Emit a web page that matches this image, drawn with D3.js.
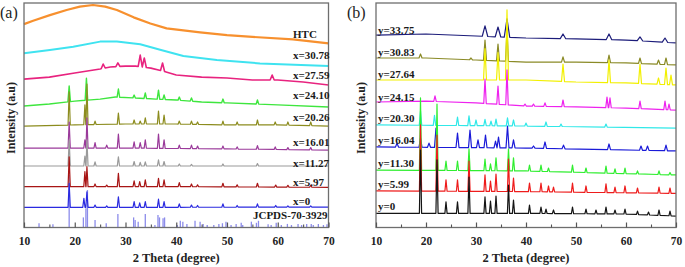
<!DOCTYPE html>
<html><head><meta charset="utf-8">
<script src="https://cdn.jsdelivr.net/npm/d3@7"></script>
<style>body{margin:0;background:#fff} svg{display:block}</style>
</head><body><svg id="c" width="685" height="267"></svg>
<script>
// ---------- shared axis data ----------
const thetaTicks = [10,20,30,40,50,60,70];
const thetaMinor = [15,25,35,45,55,65];

// ---------- Panel (a): [2theta, intensity (a.u., stacked)] ----------
const labelsA = ["HTC","x=30.78","x=27.59","x=24.10","x=20.26","x=16.01","x=11.27","x=5.97","x=0"];
const baseHTC = [[10,90.6],[11.8,92.1],[15.1,94.6],[18.4,96.9],[21,98.4],[23.6,99.1],[26,98.4],[28.3,96.9],[31.6,93.6],[34.9,90.9],[38.1,88.7],[44.7,86.9],[50,85.7],[55,84.9],[63,83.8],[70,82.0]];
const peaksHTC = [];
const baseA3078 = [[10,77.6],[15.1,79.1],[19.7,80.5],[25,82.8],[28.3,82.8],[32.9,81.6],[37,79.1],[41.4,76.4],[48,74.6],[56.5,73.1],[70,71.9]];
const peaksA3078 = [];
const baseA2759 = [[10,66.1],[15,67.0],[20,68.8],[25,70.6],[27,71.5],[30,71.9],[32,71.9],[35,71.0],[38,69.3],[40,67.9],[45,67.0],[50,66.6],[55,65.7],[60,65.7],[65,64.8],[70,63.5]];
const peaksA2759 = [[25.6,72.8],[28.5,73.3],[32.9,76.8],[33.7,75.5],[37.3,73.3],[58.9,67.9]];
const baseA2410 = [[10,54.1],[15,55.0],[20,56.3],[25,57.2],[28,58.1],[32,57.7],[36,57.2],[40,56.8],[45,55.9],[50,55.5],[60,54.6],[70,53.7]];
const peaksA2410 = [[18.9,63.0],[22.3,66.5],[28.6,61.7],[31.7,59.0],[33.9,59.9],[36.5,61.2],[37.6,59.0],[40.6,58.1],[43.0,57.7],[49.2,57.2],[56.0,56.8]];
const baseA2026 = [[10,45.2],[20,45.7],[30,46.1],[40,46.1],[50,45.7],[60,45.7],[70,45.2]];
const peaksA2026 = [[18.9,60.4],[22.0,54.6],[22.4,63.9],[24.0,47.4],[28.6,51.0],[31.7,47.9],[32.9,47.4],[33.9,48.8],[36.5,51.9],[37.6,50.1],[40.6,47.4],[43.0,47.4],[44.2,47.0],[49.2,47.4],[52.0,47.0],[56.0,47.9],[59.5,47.0],[62.0,47.0],[66.5,47.0]];
const baseA1601 = [[10,35.4],[30,35.4],[50,35.0],[70,34.5]];
const peaksA1601 = [[18.9,47.0],[22.0,39.0],[22.4,48.8],[24.0,37.8],[26.3,36.7],[28.6,41.6],[31.7,38.2],[32.9,37.8],[33.9,39.0],[36.5,41.6],[37.6,39.0],[40.6,36.7],[43.0,36.7],[44.2,36.3],[49.2,36.3],[52.0,35.9],[56.0,36.5],[59.5,35.9],[62.0,35.6],[66.5,35.6]];
const baseA1127 = [[10,27.4],[40,27.4],[70,27.4]];
const peaksA1127 = [[18.9,39.0],[22.0,31.8],[22.4,39.0],[24.0,29.2],[28.6,31.5],[31.7,29.4],[32.9,29.0],[33.9,29.2],[36.5,30.1],[37.6,29.4],[40.6,28.3],[43.0,28.1],[49.2,28.3],[56.0,28.5]];
const baseA597 = [[10,18.2],[40,18.2],[70,17.9]];
const peaksA597 = [[18.9,31.5],[22.0,24.9],[22.4,27.1],[24.0,19.4],[26.3,18.9],[28.6,24.1],[31.7,20.8],[32.8,20.4],[33.9,21.2],[36.5,21.9],[37.6,21.2],[40.6,20.0],[43.0,19.4],[44.2,19.0],[49.2,19.7],[52.0,19.0],[56.0,19.7],[59.6,18.9],[62.0,18.8],[66.5,18.8]];
const baseA0 = [[10,9.0],[40,9.0],[70,9.1]];
const peaksA0 = [[18.9,19.7],[21.8,13.0],[22.4,15.9],[24.0,10.0],[26.3,9.6],[28.6,13.7],[31.7,11.5],[32.8,11.0],[33.9,11.5],[36.5,12.6],[37.6,11.5],[40.6,10.5],[43.0,10.0],[44.2,9.8],[49.2,10.5],[52.0,9.8],[56.0,10.5],[59.6,9.8],[62.0,9.6],[66.5,9.6]];
const jcpdsLabel = "JCPDS-70-3929";
const jcpdsPos = [12.96,15.7,18.9,21.7,22.2,22.5,24.0,26.2,28.5,31.6,31.9,32.5,33.9,35.8,36.4,36.7,37.4,37.7,40.2,40.8,41.3,42.1,43.7,44.7,45.3,46.1,47.4,48.4,49.1,49.8,50.8,51.8,52.8,53.1,54.8,55.8,56.2,58.1,58.7,59.7,60.7,61.9,62.7,64.0,64.7,65.7,66.6,67.0,68.0,69.0,69.7];
const jcpdsInt = [1.9,1.4,23.4,4.5,8.6,16.7,3.3,1.9,6.0,4.5,3.3,2.6,6.0,1.1,5.6,4.5,4.1,4.5,1.1,3.0,2.6,1.6,3.0,2.6,1.6,1.1,1.1,1.6,1.9,2.6,1.1,1.6,2.1,1.1,2.6,2.1,3.0,1.4,1.1,2.1,1.1,1.6,1.1,1.6,1.1,1.6,1.6,1.1,1.6,1.1,1.4];

// ---------- Panel (b) ----------
const labelsB = ["y=33.75","y=30.83","y=27.64","y=24.15","y=20.30","y=16.04","y=11.30","y=5.99","y=0"];
const baseB3375 = [[10,85.7],[20,86.2],[30,85.3],[40,84.4],[50,84.0],[60,83.5],[70,82.2]];
const peaksB3375 = [[31.8,89.8],[34.4,89.3],[36.2,92.9],[47.4,86.2],[56.6,86.2],[62.8,84.9],[67.8,84.4]];
const baseB3083 = [[10,75.5],[20,75.5],[30,74.6],[40,73.7],[50,73.7],[60,73.3],[70,72.4]];
const peaksB3083 = [[18.9,77.3],[29.0,75.5],[31.8,83.5],[34.4,81.7],[36.2,88.0],[47.4,76.0],[56.6,76.8],[62.8,75.5],[66.5,74.6],[68.0,75.5]];
const baseB2764 = [[10,65.7],[40,65.7],[50,64.8],[60,64.4],[70,63.5]];
const peaksB2764 = [[31.8,79.7],[34.4,77.9],[36.2,96.9],[47.4,72.8],[56.6,74.6],[62.8,72.8],[66.5,66.6],[68.0,71.0],[69.0,67.9]];
const baseB2415 = [[10,55.9],[20,56.3],[30,55.5],[40,54.1],[50,53.7],[60,53.2],[70,52.3]];
const peaksB2415 = [[21.8,58.6],[31.8,66.1],[34.4,63.0],[36.2,70.2],[39.8,55.0],[41.5,55.0],[43.8,55.5],[47.4,56.8],[56.2,58.1],[56.8,57.7],[62.8,56.3],[67.8,56.3],[68.6,55.0]];
const baseB2030 = [[10,45.7],[40,45.2],[70,44.3]];
const peaksB2030 = [[18.9,51.9],[21.7,50.0],[26.3,49.2],[28.6,49.7],[30.0,47.9],[31.8,48.2],[33.0,47.4],[34.0,48.3],[36.3,48.8],[37.5,47.9],[40.0,46.5],[44.0,47.0],[47.0,46.1],[56.0,46.1]];
const baseB1604 = [[10,35.9],[40,35.4],[70,34.1]];
const peaksB1604 = [[14.2,37.6],[18.9,39.9],[20.6,37.6],[22.0,44.3],[26.3,42.1],[28.8,43.4],[30.4,39.0],[31.9,41.2],[33.9,38.5],[34.5,40.3],[36.3,45.2],[37.5,39.0],[41.5,36.3],[43.8,38.1],[47.5,36.7],[56.6,37.2],[63.0,36.3],[64.3,36.3],[68.0,36.7]];
const baseB1130 = [[10,25.6],[40,25.2],[70,23.4]];
const peaksB1130 = [[18.9,57.7],[22.2,55.0],[24.0,29.6],[26.3,29.6],[28.6,35.0],[31.8,30.5],[32.9,28.3],[34.0,31.0],[36.5,35.0],[37.5,31.0],[40.7,27.8],[43.0,27.8],[44.5,26.5],[49.3,27.8],[52.0,26.5],[56.0,27.4],[57.8,26.1],[59.8,26.5],[62.3,25.2],[66.6,25.2],[68.8,24.5]];
const baseB599 = [[10,16.3],[40,16.0],[70,15.2]];
const peaksB599 = [[18.9,45.7],[22.2,41.2],[24.0,21.2],[26.3,21.2],[28.6,29.6],[31.8,23.4],[32.9,20.7],[34.0,23.8],[36.5,30.5],[37.5,22.0],[40.7,19.8],[43.0,19.8],[44.5,18.5],[45.5,18.0],[49.3,19.8],[52.0,18.5],[56.0,19.4],[57.8,18.0],[59.8,18.5],[62.3,17.6],[66.6,18.0],[68.8,17.6]];
const baseB0 = [[10,6.3],[40,6.3],[60,6.0],[70,5.1]];
const peaksB0 = [[18.9,34.5],[22.2,30.1],[24.0,11.4],[26.3,11.4],[28.6,22.5],[31.8,13.6],[32.9,11.8],[34.0,14.0],[36.5,18.9],[37.5,12.2],[40.7,10.0],[43.0,9.1],[44.0,8.2],[45.5,7.8],[49.3,9.1],[52.0,8.2],[54.0,7.8],[56.0,9.1],[57.8,7.8],[59.8,8.2],[62.3,7.3],[64.5,6.9],[66.6,7.8],[68.8,7.3]];

// peak half-widths (degrees 2theta)
const halfWidthA = [0.25,0.25,0.4,0.25,0.22,0.22,0.22,0.22,0.22];
const halfWidthB = [0.55,0.3,0.3,0.25,0.25,0.3,0.22,0.22,0.22];

// ---------- styles ----------
const colorsA = ["#f7902e","#3fe3f0","#e8237f","#3ee63e","#8c8c1e","#9a3a9a","#9a9a9a","#a81515","#2a2ae0"];
const widthsA = [2.2,2.0,1.6,1.4,1.2,1.2,1.2,1.2,1.2];
const colorsB = ["#1c1c7a","#8a8a26","#f2f000","#ee22ee","#30e8e8","#1a1ad8","#30ee30","#ee1c1c","#151515"];
const labelYA = [34,55,75,95,117,142,163,182,201];
const labelYB = [30,52,74,97,118,140,163,184,206];

const seriesA = [[baseHTC,peaksHTC],[baseA3078,peaksA3078],[baseA2759,peaksA2759],[baseA2410,peaksA2410],[baseA2026,peaksA2026],[baseA1601,peaksA1601],[baseA1127,peaksA1127],[baseA597,peaksA597],[baseA0,peaksA0]];
const seriesB = [[baseB3375,peaksB3375],[baseB3083,peaksB3083],[baseB2764,peaksB2764],[baseB2415,peaksB2415],[baseB2030,peaksB2030],[baseB1604,peaksB1604],[baseB1130,peaksB1130],[baseB599,peaksB599],[baseB0,peaksB0]];

const svg = d3.select("#c");
const FONT = "'Liberation Serif','Times New Roman',serif";
const plotTop = 3, plotBottom = 227.5;

function buildPoints(base, peaks, hw){
  const bl = d3.scaleLinear().domain(base.map(d=>d[0])).range(base.map(d=>d[1]));
  const pts = base.filter((b,i) => i===0 || i===base.length-1 || !peaks.some(p => Math.abs(p[0]-b[0]) < hw*1.5)).map(d=>[d[0],d[1]]);
  peaks.forEach(p => { pts.push([p[0]-hw, bl(p[0]-hw)], [p[0], p[1]], [p[0]+hw, bl(p[0]+hw)]); });
  pts.sort((a,b)=>a[0]-b[0]);
  return pts;
}

function panel(left, right, series, colors, widths, hws, labels, labelX, labelY, tag, tagX, ylabX, sticks){
  const x = d3.scaleLinear().domain([10,70]).range([left,right]);
  const y = d3.scaleLinear().domain([0,100]).range([plotBottom,plotTop]);
  const g = svg.append("g");
  if (sticks){
    g.append("g").selectAll("line").data(jcpdsPos).join("line")
      .attr("x1",d=>x(d)).attr("x2",d=>x(d))
      .attr("y1",y(0)).attr("y2",(d,i)=>y(jcpdsInt[i]))
      .attr("stroke","#8c8cea").attr("stroke-width",1.3);
  }
  const line = d3.line().x(d=>x(d[0])).y(d=>y(d[1]));
  series.forEach((s,i)=>{
    g.append("path").attr("d", line(buildPoints(s[0], s[1], hws[i])))
      .attr("fill","none").attr("stroke",colors[i]).attr("stroke-width",widths[i])
      .attr("stroke-linejoin","round");
  });
  g.append("rect").attr("x",left).attr("y",plotTop).attr("width",right-left).attr("height",plotBottom-plotTop)
    .attr("fill","none").attr("stroke","#6e6e6e").attr("stroke-width",1.3);
  const ax = g.append("g").attr("transform",`translate(0,${plotBottom})`)
    .call(d3.axisBottom(x).tickValues(thetaTicks).tickSize(-5).tickPadding(9).tickFormat(d3.format("d")));
  ax.select(".domain").remove();
  ax.selectAll("line").attr("stroke","#555").attr("stroke-width",1.2);
  ax.selectAll("text").attr("font-family",FONT).attr("font-weight","bold").attr("font-size","11.5px").attr("fill","#222");
  const mx = g.append("g").attr("transform",`translate(0,${plotBottom})`)
    .call(d3.axisBottom(x).tickValues(thetaMinor).tickSize(-3).tickFormat(""));
  mx.select(".domain").remove();
  mx.selectAll("line").attr("stroke","#555").attr("stroke-width",1.1);
  g.append("text").attr("x",(left+right)/2).attr("y",262).attr("text-anchor","middle")
    .attr("font-family",FONT).attr("font-weight","bold").attr("font-size","12.5px").attr("fill","#222")
    .text("2 Theta (degree)");
  g.append("text").attr("transform",`translate(${ylabX},118) rotate(-90)`).attr("text-anchor","middle")
    .attr("font-family",FONT).attr("font-weight","bold").attr("font-size","12px").attr("fill","#222")
    .text("Intensity (a.u)");
  labels.forEach((t,i)=>{
    g.append("text").attr("x",labelX).attr("y",labelY[i]).attr("dy","0.35em")
      .attr("font-family",FONT).attr("font-weight","bold").attr("font-size","11px").attr("fill","#1a1a1a")
      .text(t);
  });
  if (sticks){
    g.append("text").attr("x",right-1).attr("y",215).attr("dy","0.35em").attr("text-anchor","end")
      .attr("font-family",FONT).attr("font-weight","bold").attr("font-size","11px").attr("fill","#1a1a1a")
      .text(jcpdsLabel);
  }
  svg.append("text").attr("x",tagX).attr("y",12).attr("dy","0.35em")
    .attr("font-family",FONT).attr("font-size","16px").attr("fill","#222").text(tag);
}

panel(24, 328.5, seriesA, colorsA, widthsA, halfWidthA, labelsA, 293, labelYA, "(a)", 0, 15, true);
panel(376, 676, seriesB, colorsB, colorsB.map(()=>1.2), halfWidthB, labelsB, 378, labelYB, "(b)", 347, 365, false);
</script>
</body></html>
